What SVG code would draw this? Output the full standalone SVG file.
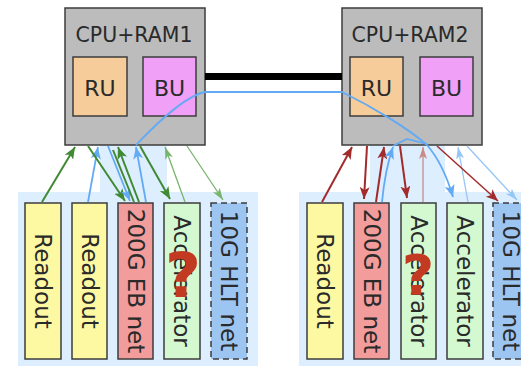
<svg xmlns="http://www.w3.org/2000/svg" width="521" height="366" viewBox="0 0 521 366">
  <style>
    .bg { fill: #ddeeff; }
    .box { stroke: #3c3c3c; stroke-width: 1.5; }
    .cpu { fill: #bcbcbc; }
    .ru { fill: #f6cc9a; }
    .bu { fill: #f0a0f6; }
    .readout { fill: #fdf9a2; }
    .eb { fill: #f29c9c; }
    .acc { fill: #d4f9d0; }
    .hlt { fill: #9dc5f2; stroke-dasharray: 6 4; }
    .t { font-family: "DejaVu Sans", sans-serif; fill: #2a2a2a; text-anchor: middle; }
    .title { font-size: 20.5px; }
    .unit { font-size: 22px; }
    .vert { font-size: 23px; }
    .q { font-family: "DejaVu Sans", sans-serif; font-weight: bold; font-size: 62px; fill: #c33a22; text-anchor: middle; }
    .c { fill: none; }
    .g { stroke: #3f8a32; stroke-width: 2; }
    .lg { stroke: #77b56c; stroke-width: 1.3; }
    .b { stroke: #63aaf4; stroke-width: 1.8; }
    .lb { stroke: #95c6f5; stroke-width: 1.3; }
    .r { stroke: #a22b2b; stroke-width: 2; }
    .lr { stroke: #c98a8a; stroke-width: 1.3; }
  </style>
  <defs>
    <marker id="mg" markerUnits="userSpaceOnUse" markerWidth="14" markerHeight="12" refX="12" refY="5" orient="auto"><path d="M0,0 L12,5 L0,10 L3,5 z" fill="#3f8a32"/></marker>
    <marker id="mlg" markerUnits="userSpaceOnUse" markerWidth="14" markerHeight="12" refX="12" refY="5" orient="auto"><path d="M0,1 L12,5 L0,9 L3,5 z" fill="#77b56c"/></marker>
    <marker id="mb" markerUnits="userSpaceOnUse" markerWidth="14" markerHeight="12" refX="12" refY="5" orient="auto"><path d="M0,0 L12,5 L0,10 L3,5 z" fill="#63aaf4"/></marker>
    <marker id="mlb" markerUnits="userSpaceOnUse" markerWidth="14" markerHeight="12" refX="12" refY="5" orient="auto"><path d="M0,1 L12,5 L0,9 L3,5 z" fill="#95c6f5"/></marker>
    <marker id="mr" markerUnits="userSpaceOnUse" markerWidth="14" markerHeight="12" refX="12" refY="5" orient="auto"><path d="M0,0 L12,5 L0,10 L3,5 z" fill="#a22b2b"/></marker>
    <marker id="mlr" markerUnits="userSpaceOnUse" markerWidth="14" markerHeight="12" refX="12" refY="5" orient="auto"><path d="M0,1 L12,5 L0,9 L3,5 z" fill="#c98a8a"/></marker>
  </defs>

  <!-- group backgrounds -->
  <g id="backgrounds">
    <rect class="bg" x="18" y="192" width="240" height="174"/>
    <rect class="bg" x="100" y="145" width="67" height="47"/>
    <rect class="bg" x="299" y="192" width="222" height="174"/>
    <rect class="bg" x="370" y="145" width="75" height="47"/>
  </g>

  <!-- servers -->
  <g id="cpu1">
    <rect class="box cpu" x="65" y="8" width="140" height="137"/>
    <text class="t title" x="134" y="42">CPU+RAM1</text>
  </g>
  <g id="ru1">
    <rect class="box ru" x="73" y="57" width="54" height="59"/>
    <text class="t unit" x="100" y="96">RU</text>
  </g>
  <g id="bu1">
    <rect class="box bu" x="143" y="57" width="53" height="59"/>
    <text class="t unit" x="169.5" y="96">BU</text>
  </g>
  <g id="cpu2">
    <rect class="box cpu" x="342" y="8" width="140" height="137"/>
    <text class="t title" x="410" y="42">CPU+RAM2</text>
  </g>
  <g id="ru2">
    <rect class="box ru" x="350" y="57" width="53" height="59"/>
    <text class="t unit" x="376.5" y="96">RU</text>
  </g>
  <g id="bu2">
    <rect class="box bu" x="420" y="57" width="53" height="59"/>
    <text class="t unit" x="446.5" y="96">BU</text>
  </g>

  <!-- cards of server 1 -->
  <g id="readout1a">
    <rect class="box readout" x="25" y="203" width="36" height="156"/>
    <text class="t vert" transform="translate(43,281) rotate(90)" x="0" y="8">Readout</text>
  </g>
  <g id="readout1b">
    <rect class="box readout" x="72" y="203" width="35" height="156"/>
    <text class="t vert" transform="translate(89.5,281) rotate(90)" x="0" y="8">Readout</text>
  </g>
  <g id="eb1">
    <rect class="box eb" x="118" y="203" width="35" height="156"/>
    <text class="t vert" transform="translate(135.5,281) rotate(90)" x="0" y="8">200G EB net</text>
  </g>
  <g id="acc1">
    <rect class="box acc" x="164" y="203" width="36" height="156"/>
    <text class="t vert" transform="translate(182,281) rotate(90)" x="0" y="8">Accelerator</text>
    <text class="q" x="183" y="297">?</text>
  </g>
  <g id="hlt1">
    <rect class="box hlt" x="211" y="203" width="36" height="156"/>
    <text class="t vert" transform="translate(229,281) rotate(90)" x="0" y="8">10G HLT net</text>
  </g>

  <!-- cards of server 2 -->
  <g id="readout2">
    <rect class="box readout" x="307" y="203" width="36" height="156"/>
    <text class="t vert" transform="translate(325,281) rotate(90)" x="0" y="8">Readout</text>
  </g>
  <g id="eb2">
    <rect class="box eb" x="354" y="203" width="35" height="156"/>
    <text class="t vert" transform="translate(371.5,281) rotate(90)" x="0" y="8">200G EB net</text>
  </g>
  <g id="acc2a">
    <rect class="box acc" x="401" y="203" width="35" height="156"/>
    <text class="t vert" transform="translate(418.5,281) rotate(90)" x="0" y="8">Accelerator</text>
    <text class="q" x="418" y="294" style="font-size:56px">?</text>
  </g>
  <g id="acc2b">
    <rect class="box acc" x="447" y="203" width="36" height="156"/>
    <text class="t vert" transform="translate(465,281) rotate(90)" x="0" y="8">Accelerator</text>
  </g>
  <g id="hlt2">
    <rect class="box hlt" x="493" y="203" width="36" height="156"/>
    <text class="t vert" transform="translate(511,281) rotate(90)" x="0" y="8">10G HLT net</text>
  </g>

  <!-- connectors -->
  <g id="connectors">
    <!-- inter-server link -->
    <rect x="205" y="73" width="137" height="7" fill="#000"/>

    <!-- server 1 -->
    <path class="c g" d="M42,202 L75,147" marker-end="url(#mg)"/>
    <path class="c b" d="M88,202 L98,147" marker-end="url(#mb)"/>
    <path class="c g" d="M88,146 L125,201" marker-end="url(#mg)"/>
    <path class="c b" d="M108,146 L130,201" marker-end="url(#mb)"/>
    <path class="c g" d="M139,202 L118,147" marker-end="url(#mg)"/>
    <path class="c g" d="M134,202 L113,150"/>
    <path class="c b" d="M146,202 L136,147" marker-end="url(#mb)"/>
    <path class="c g" d="M140,146 L170,199" marker-end="url(#mg)"/>
    <path class="c lg" d="M185,202 L165,147" marker-end="url(#mlg)"/>
    <path class="c lg" d="M187,146 L223,200" marker-end="url(#mlg)"/>

    <!-- route crossing both servers -->
    <path class="c b" d="M136,145 C155,125 185,96 205,92 L342,92 C375,108 410,130 427,145 C440,160 448,180 453,197" marker-end="url(#mb)"/>

    <!-- server 2 -->
    <path class="c r" d="M322,202 L352,147" marker-end="url(#mr)"/>
    <path class="c r" d="M367,146 L364,199" marker-end="url(#mr)"/>
    <path class="c r" d="M376,202 L384,147" marker-end="url(#mr)"/>
    <path class="c b" d="M382,202 Q385,170 393,147" marker-end="url(#mb)"/>
    <path class="c b" d="M393,146 L407,139 L427,144"/>
    <path class="c r" d="M400,146 L407,198" marker-end="url(#mr)"/>
    <path class="c lr" d="M423,202 L423,147" marker-end="url(#mlr)"/>
    <path class="c lb" d="M468,202 L458,147" marker-end="url(#mlb)"/>
    <path class="c r" style="stroke-width:1.5" d="M437,146 L498,201" marker-end="url(#mr)"/>
    <path class="c lb" d="M467,146 L517,200" marker-end="url(#mlb)"/>
  </g>
</svg>
